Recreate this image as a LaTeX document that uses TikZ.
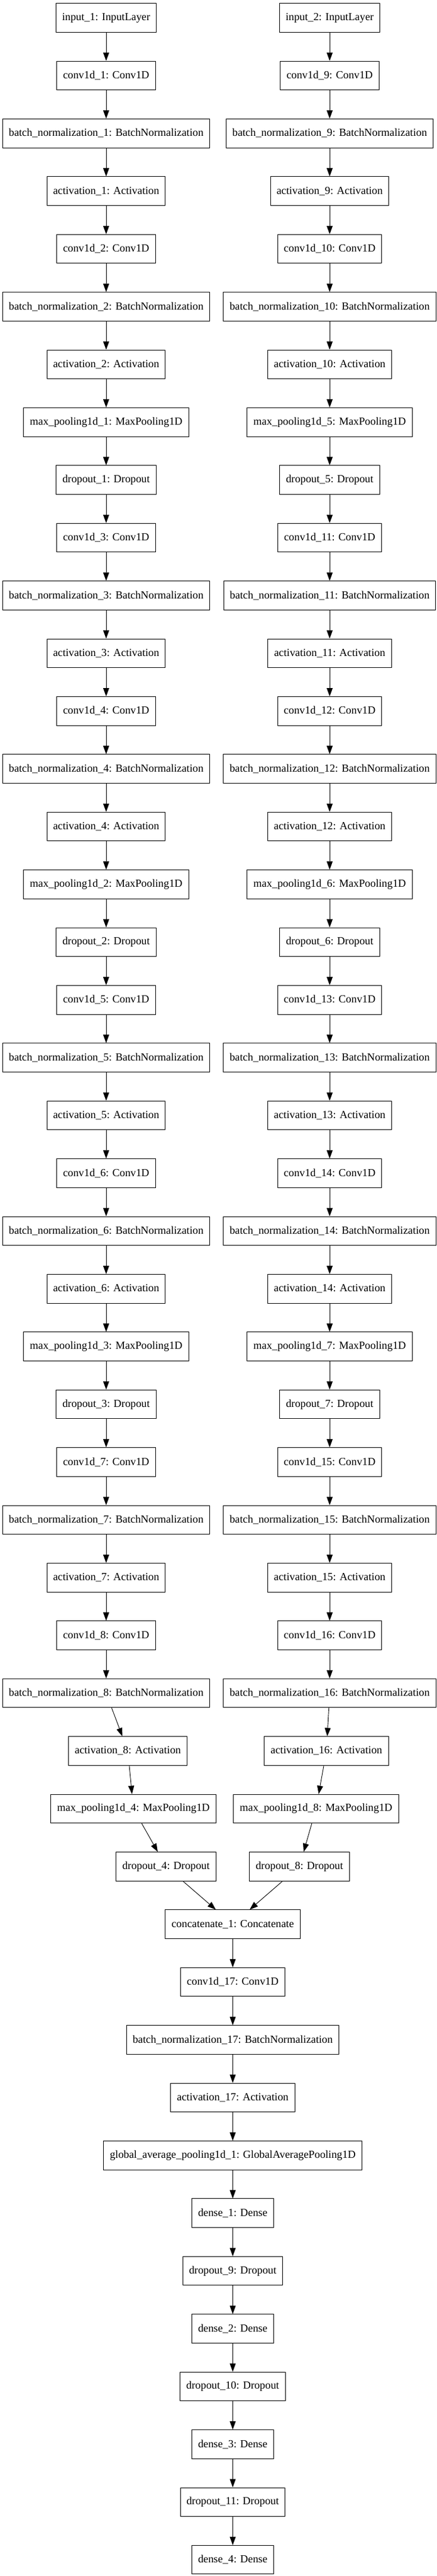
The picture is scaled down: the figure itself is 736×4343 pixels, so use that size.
\documentclass[tikz,border=0pt]{standalone}
\usepackage{fontspec}
\setmainfont{Liberation Serif}
\usetikzlibrary{arrows.meta}
\newcommand\rowy[1]{30+97.4*#1}
\begin{document}
\begin{tikzpicture}[x=1pt,y=-1pt,
  lay/.style={draw,line width=1pt,rectangle,minimum height=48.5pt,inner xsep=10.5pt,inner ysep=0pt,
    font=\fontsize{18.3}{20}\selectfont},
  edge/.style={line width=0.9pt,-{Triangle[length=14pt,width=10pt]}}]
\useasboundingbox (0,0) rectangle (736,4343);
% left column
\node[lay] (L0) at (179,{\rowy{0}}) {input\_1: InputLayer};
\node[lay] (L1) at (179,{\rowy{1}}) {conv1d\_1: Conv1D};
\node[lay] (L2) at (179,{\rowy{2}}) {batch\_normalization\_1: BatchNormalization};
\node[lay] (L3) at (179,{\rowy{3}}) {activation\_1: Activation};
\node[lay] (L4) at (179,{\rowy{4}}) {conv1d\_2: Conv1D};
\node[lay] (L5) at (179,{\rowy{5}}) {batch\_normalization\_2: BatchNormalization};
\node[lay] (L6) at (179,{\rowy{6}}) {activation\_2: Activation};
\node[lay] (L7) at (179,{\rowy{7}}) {max\_pooling1d\_1: MaxPooling1D};
\node[lay] (L8) at (179,{\rowy{8}}) {dropout\_1: Dropout};
\node[lay] (L9) at (179,{\rowy{9}}) {conv1d\_3: Conv1D};
\node[lay] (L10) at (179,{\rowy{10}}) {batch\_normalization\_3: BatchNormalization};
\node[lay] (L11) at (179,{\rowy{11}}) {activation\_3: Activation};
\node[lay] (L12) at (179,{\rowy{12}}) {conv1d\_4: Conv1D};
\node[lay] (L13) at (179,{\rowy{13}}) {batch\_normalization\_4: BatchNormalization};
\node[lay] (L14) at (179,{\rowy{14}}) {activation\_4: Activation};
\node[lay] (L15) at (179,{\rowy{15}}) {max\_pooling1d\_2: MaxPooling1D};
\node[lay] (L16) at (179,{\rowy{16}}) {dropout\_2: Dropout};
\node[lay] (L17) at (179,{\rowy{17}}) {conv1d\_5: Conv1D};
\node[lay] (L18) at (179,{\rowy{18}}) {batch\_normalization\_5: BatchNormalization};
\node[lay] (L19) at (179,{\rowy{19}}) {activation\_5: Activation};
\node[lay] (L20) at (179,{\rowy{20}}) {conv1d\_6: Conv1D};
\node[lay] (L21) at (179,{\rowy{21}}) {batch\_normalization\_6: BatchNormalization};
\node[lay] (L22) at (179,{\rowy{22}}) {activation\_6: Activation};
\node[lay] (L23) at (179,{\rowy{23}}) {max\_pooling1d\_3: MaxPooling1D};
\node[lay] (L24) at (179,{\rowy{24}}) {dropout\_3: Dropout};
\node[lay] (L25) at (179,{\rowy{25}}) {conv1d\_7: Conv1D};
\node[lay] (L26) at (179,{\rowy{26}}) {batch\_normalization\_7: BatchNormalization};
\node[lay] (L27) at (179,{\rowy{27}}) {activation\_7: Activation};
\node[lay] (L28) at (179,{\rowy{28}}) {conv1d\_8: Conv1D};
\node[lay] (L29) at (179,{\rowy{29}}) {batch\_normalization\_8: BatchNormalization};
\node[lay] (L30) at (215.6,{\rowy{30}}) {activation\_8: Activation};
\node[lay] (L31) at (225,{\rowy{31}}) {max\_pooling1d\_4: MaxPooling1D};
\node[lay] (L32) at (280,{\rowy{32}}) {dropout\_4: Dropout};
% right column
\node[lay] (R0) at (556,{\rowy{0}}) {input\_2: InputLayer};
\node[lay] (R1) at (556,{\rowy{1}}) {conv1d\_9: Conv1D};
\node[lay] (R2) at (556,{\rowy{2}}) {batch\_normalization\_9: BatchNormalization};
\node[lay] (R3) at (556,{\rowy{3}}) {activation\_9: Activation};
\node[lay] (R4) at (556,{\rowy{4}}) {conv1d\_10: Conv1D};
\node[lay] (R5) at (556,{\rowy{5}}) {batch\_normalization\_10: BatchNormalization};
\node[lay] (R6) at (556,{\rowy{6}}) {activation\_10: Activation};
\node[lay] (R7) at (556,{\rowy{7}}) {max\_pooling1d\_5: MaxPooling1D};
\node[lay] (R8) at (556,{\rowy{8}}) {dropout\_5: Dropout};
\node[lay] (R9) at (556,{\rowy{9}}) {conv1d\_11: Conv1D};
\node[lay] (R10) at (556,{\rowy{10}}) {batch\_normalization\_11: BatchNormalization};
\node[lay] (R11) at (556,{\rowy{11}}) {activation\_11: Activation};
\node[lay] (R12) at (556,{\rowy{12}}) {conv1d\_12: Conv1D};
\node[lay] (R13) at (556,{\rowy{13}}) {batch\_normalization\_12: BatchNormalization};
\node[lay] (R14) at (556,{\rowy{14}}) {activation\_12: Activation};
\node[lay] (R15) at (556,{\rowy{15}}) {max\_pooling1d\_6: MaxPooling1D};
\node[lay] (R16) at (556,{\rowy{16}}) {dropout\_6: Dropout};
\node[lay] (R17) at (556,{\rowy{17}}) {conv1d\_13: Conv1D};
\node[lay] (R18) at (556,{\rowy{18}}) {batch\_normalization\_13: BatchNormalization};
\node[lay] (R19) at (556,{\rowy{19}}) {activation\_13: Activation};
\node[lay] (R20) at (556,{\rowy{20}}) {conv1d\_14: Conv1D};
\node[lay] (R21) at (556,{\rowy{21}}) {batch\_normalization\_14: BatchNormalization};
\node[lay] (R22) at (556,{\rowy{22}}) {activation\_14: Activation};
\node[lay] (R23) at (556,{\rowy{23}}) {max\_pooling1d\_7: MaxPooling1D};
\node[lay] (R24) at (556,{\rowy{24}}) {dropout\_7: Dropout};
\node[lay] (R25) at (556,{\rowy{25}}) {conv1d\_15: Conv1D};
\node[lay] (R26) at (556,{\rowy{26}}) {batch\_normalization\_15: BatchNormalization};
\node[lay] (R27) at (556,{\rowy{27}}) {activation\_15: Activation};
\node[lay] (R28) at (556,{\rowy{28}}) {conv1d\_16: Conv1D};
\node[lay] (R29) at (556,{\rowy{29}}) {batch\_normalization\_16: BatchNormalization};
\node[lay] (R30) at (550.5,{\rowy{30}}) {activation\_16: Activation};
\node[lay] (R31) at (533,{\rowy{31}}) {max\_pooling1d\_8: MaxPooling1D};
\node[lay] (R32) at (505,{\rowy{32}}) {dropout\_8: Dropout};
% merged trunk
\node[lay] (M0) at (392.5,{\rowy{33}}) {concatenate\_1: Concatenate};
\node[lay] (M1) at (392.5,{\rowy{34}}) {conv1d\_17: Conv1D};
\node[lay] (M2) at (392.5,{\rowy{35}}) {batch\_normalization\_17: BatchNormalization};
\node[lay] (M3) at (392.5,{\rowy{36}}) {activation\_17: Activation};
\node[lay] (M4) at (392.5,{\rowy{37}}) {global\_average\_pooling1d\_1: GlobalAveragePooling1D};
\node[lay] (M5) at (392.5,{\rowy{38}}) {dense\_1: Dense};
\node[lay] (M6) at (392.5,{\rowy{39}}) {dropout\_9: Dropout};
\node[lay] (M7) at (392.5,{\rowy{40}}) {dense\_2: Dense};
\node[lay] (M8) at (392.5,{\rowy{41}}) {dropout\_10: Dropout};
\node[lay] (M9) at (392.5,{\rowy{42}}) {dense\_3: Dense};
\node[lay] (M10) at (392.5,{\rowy{43}}) {dropout\_11: Dropout};
\node[lay] (M11) at (392.5,{\rowy{44}}) {dense\_4: Dense};
% connectors
\foreach \i in {0,...,31}{
  \pgfmathtruncatemacro\j{\i+1}
  \draw[edge] (L\i) -- (L\j);
  \draw[edge] (R\i) -- (R\j);
}
\foreach \i in {0,...,10}{
  \pgfmathtruncatemacro\j{\i+1}
  \draw[edge] (M\i) -- (M\j);
}
\draw[edge] (L32) -- (M0);
\draw[edge] (R32) -- (M0);
\end{tikzpicture}
\end{document}
